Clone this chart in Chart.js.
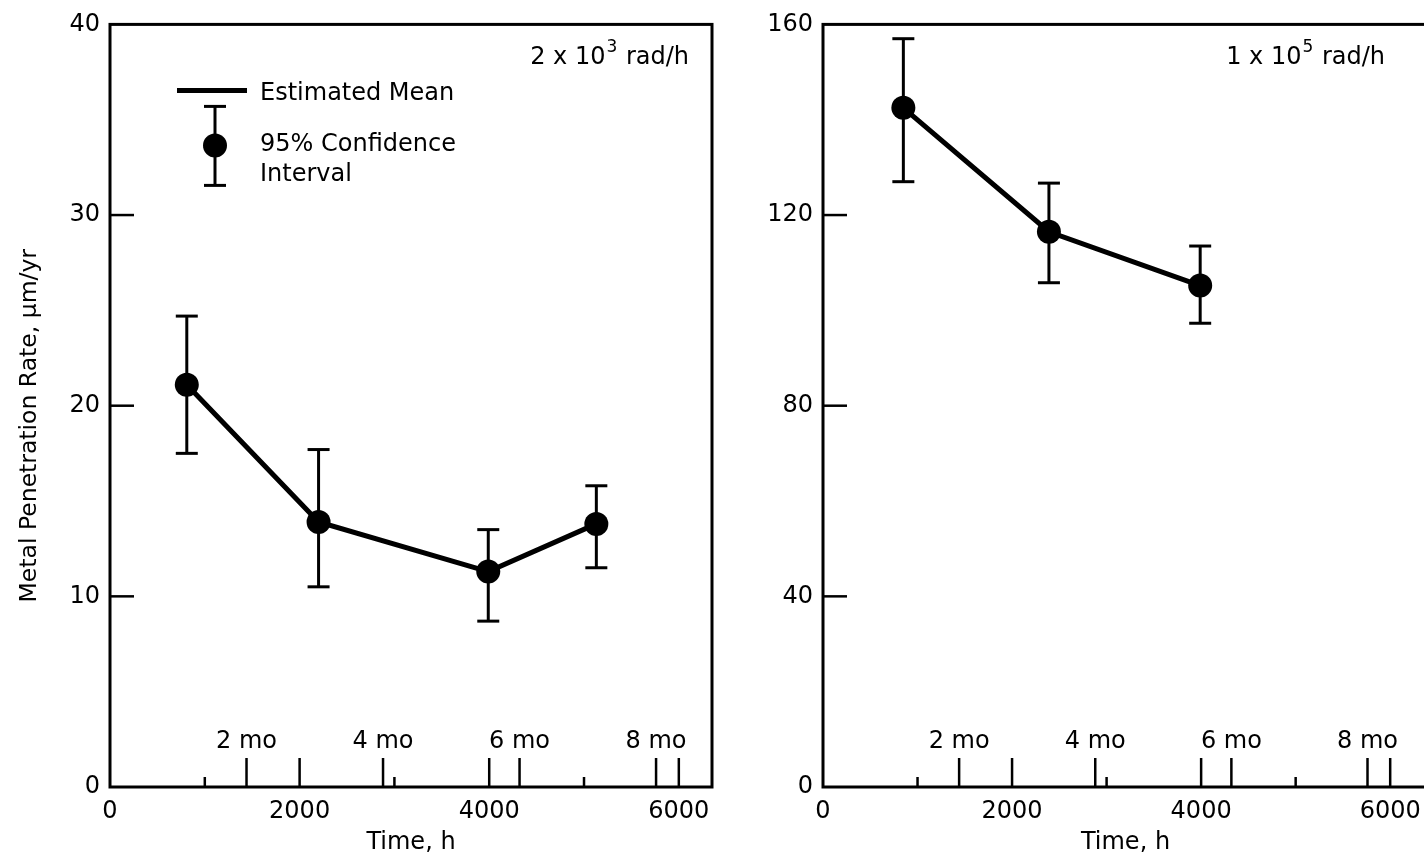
<!DOCTYPE html>
<html lang="en">
<head>
  <meta charset="UTF-8" />
  <title>Metal Penetration Rate vs Time</title>
  <script src="https://cdn.jsdelivr.net/npm/chart.js"></script>
  <style>
    html, body { margin: 0; padding: 0; background: #fff; overflow: hidden; }
    .panel { position: absolute; top: 0; }
    #lowDose { left: 0; }
    #highDose { left: 740px; }
  </style>
</head>
<body>
  <canvas id="lowDose" class="panel" width="740" height="859"></canvas>
  <canvas id="highDose" class="panel" width="700" height="859"></canvas>

  <script>
    // 2 x 10^3 rad/h series (mean and 95% limits)
    const hoursLow = [810, 2200, 3990, 5130];
    const rateLow = [21.1, 13.9, 11.3, 13.8];
    const upperLow = [24.7, 17.7, 13.5, 15.8];
    const lowerLow = [17.5, 10.5, 8.7, 11.5];

    // 1 x 10^5 rad/h series
    const hoursHigh = [850, 2390, 3990];
    const rateHigh = [142.5, 116.5, 105.2];
    const upperHigh = [157.0, 126.7, 113.5];
    const lowerHigh = [127.0, 105.8, 97.3];

    // axis ticks
    const hourTicks = [0, 2000, 4000, 6000];
    const minorHourTicks = [1000, 3000, 5000];
    const monthHours = [1440, 2880, 4320, 5760];
    const monthLabels = ['2 mo', '4 mo', '6 mo', '8 mo'];
    const rateTicksLow = [0, 10, 20, 30, 40];
    const rateTicksHigh = [0, 40, 80, 120, 160];

    const FONT = '"DejaVu Sans", sans-serif';
    const INK = '#000';

    function seg(ctx, x1, y1, x2, y2) {
      ctx.beginPath();
      ctx.moveTo(x1, y1);
      ctx.lineTo(x2, y2);
      ctx.stroke();
    }

    function errorBar(ctx, px, top, bot, cap) {
      seg(ctx, px, top, px, bot);
      seg(ctx, px - cap, top, px + cap, top);
      seg(ctx, px - cap, bot, px + cap, bot);
    }

    const panelExtras = {
      id: 'panelExtras',
      beforeDatasetsDraw(chart, args, o) {
        const { ctx, scales: { x, y } } = chart;
        ctx.save();
        ctx.strokeStyle = INK;
        ctx.lineWidth = 3;
        o.hours.forEach((h, i) => {
          errorBar(ctx, x.getPixelForValue(h), y.getPixelForValue(o.upper[i]), y.getPixelForValue(o.lower[i]), 11);
        });
        ctx.restore();
      },
      afterDraw(chart, args, o) {
        const { ctx, chartArea: a, scales: { x, y } } = chart;
        ctx.save();
        ctx.strokeStyle = INK;
        ctx.fillStyle = INK;

        // frame
        ctx.lineWidth = 3;
        ctx.strokeRect(a.left, a.top, a.right - a.left, a.bottom - a.top);

        // tick marks pointing into the plot
        ctx.lineWidth = 2.5;
        hourTicks.slice(1).concat(monthHours).forEach(h => {
          const px = x.getPixelForValue(h);
          seg(ctx, px, a.bottom, px, a.bottom - 29);
        });
        minorHourTicks.forEach(h => {
          const px = x.getPixelForValue(h);
          seg(ctx, px, a.bottom, px, a.bottom - 10);
        });
        o.yTicks.slice(1, -1).forEach(v => {
          const py = y.getPixelForValue(v);
          seg(ctx, a.left, py, a.left + 24, py);
        });

        // month labels above the month ticks
        ctx.font = `24px ${FONT}`;
        ctx.textAlign = 'center';
        ctx.textBaseline = 'middle';
        monthLabels.forEach((t, i) => {
          ctx.fillText(t, x.getPixelForValue(monthHours[i]), a.bottom - 45);
        });

        // dose rate note, top right
        const bigFont = `24px ${FONT}`;
        const supFont = `17px ${FONT}`;
        ctx.textAlign = 'left';
        ctx.textBaseline = 'alphabetic';
        ctx.font = bigFont;
        const wBase = ctx.measureText(o.note[0]).width;
        const wTail = ctx.measureText(o.note[2]).width;
        ctx.font = supFont;
        const wSup = ctx.measureText(o.note[1]).width + 1;
        let nx = a.right - o.noteInset - (wBase + wSup + wTail);
        const baseY = a.top + 40;
        ctx.font = bigFont;
        ctx.fillText(o.note[0], nx, baseY);
        nx += wBase + 1;
        ctx.font = supFont;
        ctx.fillText(o.note[1], nx, baseY - 12);
        nx += wSup;
        ctx.font = bigFont;
        ctx.fillText(o.note[2], nx, baseY);

        // key
        if (o.legend) {
          ctx.lineWidth = 5;
          seg(ctx, a.left + 67, a.top + 66, a.left + 137, a.top + 66);
          ctx.lineWidth = 3;
          errorBar(ctx, a.left + 105, a.top + 82, a.top + 161, 11);
          ctx.beginPath();
          ctx.arc(a.left + 105, a.top + 121, 12, 0, Math.PI * 2);
          ctx.fill();
          ctx.font = `24px ${FONT}`;
          ctx.textBaseline = 'middle';
          ctx.fillText('Estimated Mean', a.left + 150, a.top + 69);
          ctx.fillText('95% Confidence', a.left + 150, a.top + 120);
          ctx.fillText('Interval', a.left + 150, a.top + 150);
        }

        // y axis title
        if (o.yTitle) {
          ctx.translate(a.left - 80, (a.top + a.bottom) / 2 + 20);
          ctx.rotate(-Math.PI / 2);
          ctx.font = `23.5px ${FONT}`;
          ctx.textAlign = 'center';
          ctx.textBaseline = 'middle';
          ctx.fillText(o.yTitle, 0, 0);
        }
        ctx.restore();
      }
    };

    function buildPanel(id, p) {
      const tickFont = { family: FONT, size: 24 };
      return new Chart(document.getElementById(id), {
        type: 'line',
        data: {
          datasets: [{
            data: p.hours.map((h, i) => ({ x: h, y: p.rate[i] })),
            borderColor: INK,
            backgroundColor: INK,
            borderWidth: 5,
            pointRadius: 12,
            pointHoverRadius: 12,
            pointBorderWidth: 0,
            tension: 0
          }]
        },
        options: {
          responsive: false,
          animation: false,
          events: [],
          layout: { padding: { top: 22, right: p.padRight, bottom: 0, left: 0 } },
          plugins: {
            legend: { display: false },
            tooltip: { enabled: false },
            panelExtras: {
              hours: p.hours, upper: p.upper, lower: p.lower,
              yTicks: p.yTicks, note: p.note, noteInset: p.noteInset,
              legend: p.legend, yTitle: p.yTitle
            }
          },
          scales: {
            x: {
              type: 'linear',
              min: 0,
              max: p.xMax,
              afterBuildTicks: s => { s.ticks = hourTicks.map(v => ({ value: v })); },
              afterFit: s => { s.height = 72; },
              grid: { display: false, drawTicks: false },
              border: { display: false },
              ticks: { padding: 10, color: INK, font: tickFont, maxRotation: 0, autoSkip: false, callback: v => String(v) },
              title: { display: true, text: 'Time, h', color: INK, font: tickFont, padding: { top: 0, bottom: 2 } }
            },
            y: {
              min: 0,
              max: p.yMax,
              afterBuildTicks: s => { s.ticks = p.yTicks.map(v => ({ value: v })); },
              afterFit: s => { s.width = p.yWidth; },
              grid: { display: false, drawTicks: false },
              border: { display: false },
              ticks: { padding: 10, color: INK, font: tickFont, callback: v => String(v) }
            }
          }
        },
        plugins: [panelExtras]
      });
    }

    buildPanel('lowDose', {
      hours: hoursLow, rate: rateLow, upper: upperLow, lower: lowerLow,
      yTicks: rateTicksLow, yMax: 40, xMax: 6350, yWidth: 110, padRight: 28,
      note: ['2 x 10', '3', ' rad/h'], noteInset: 24, legend: true,
      yTitle: 'Metal Penetration Rate, \u03bcm/yr'
    });

    buildPanel('highDose', {
      hours: hoursHigh, rate: rateHigh, upper: upperHigh, lower: lowerHigh,
      yTicks: rateTicksHigh, yMax: 160, xMax: 6400, yWidth: 83, padRight: 12,
      note: ['1 x 10', '5', ' rad/h'], noteInset: 44, legend: false
    });
  </script>
</body>
</html>
